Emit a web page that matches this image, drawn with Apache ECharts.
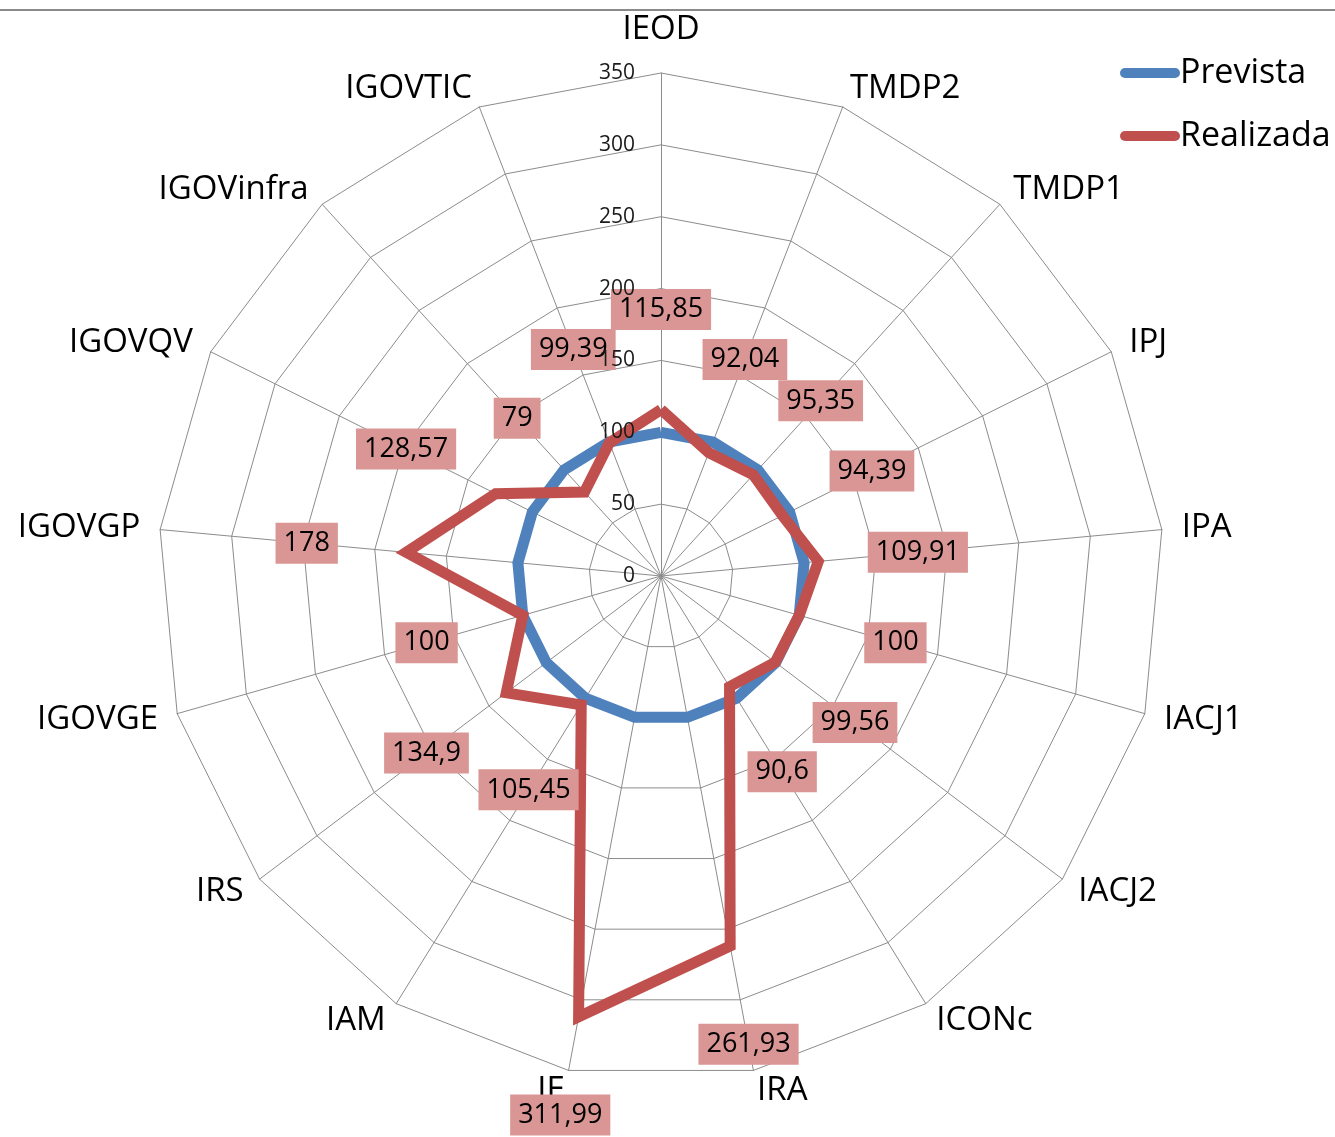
<!DOCTYPE html>
<html>
<head>
<meta charset="utf-8">
<script src="https://cdn.jsdelivr.net/npm/echarts@6/dist/echarts.min.js"></script>
<style>
html,body{margin:0;padding:0;background:#ffffff;}
#chart{width:1335px;height:1137px;}
</style>
</head>
<body>
<div id="chart"></div>
<script>
// ---- data (clockwise from the top) ----
const categories = ['IEOD','TMDP2','TMDP1','IPJ','IPA','IACJ1','IACJ2','ICONc','IRA','IE','IAM','IRS','IGOVGE','IGOVGP','IGOVQV','IGOVinfra','IGOVTIC'];
const prevista  = [100,100,100,100,100,100,100,100,100,100,100,100,100,100,100,100,100];
const realizada = [115.85,92.04,95.35,94.39,109.91,100,99.56,90.6,261.93,311.99,105.45,134.9,100,178,128.57,79,99.39];
const tickLabels = [0,50,100,150,200,250,300,350];
const seriesNames = ['Prevista','Realizada'];

// ---- layout / style ----
const CX = 661, CY = 576, R = 503;
const MIN = tickLabels[0], MAX = tickLabels[tickLabels.length - 1];
const STEP = tickLabels[1] - tickLabels[0];
const FONT = 'Open Sans';
const BLUE = '#4F81BD', RED = '#C0504D', LABEL_BG = '#D99694', GRID = '#8c8c8c';
const n = categories.length;

// ECharts radar places indicators counter-clockwise: reorder so the chart reads clockwise
const order = [0].concat(Array.from({length: n - 1}, (_, k) => n - 1 - k));
const reorder = arr => order.map(i => arr[i]);

const fmt = v => String(v).replace('.', ',');
const LABEL_PUSH = 100; // radial distance of the data labels from their point

const labelData = realizada.map((v, i) => {
  const a = i * 2 * Math.PI / n;
  return {
    value: [v, i],
    label: { offset: [LABEL_PUSH * Math.sin(a), -LABEL_PUSH * Math.cos(a)] }
  };
});

const chart = echarts.init(document.getElementById('chart'), null, {renderer: 'canvas'});

chart.setOption({
  backgroundColor: '#ffffff',
  animation: false,
  graphic: [{
    type: 'line', z: 0, silent: true,
    shape: {x1: 0, y1: 10, x2: 1335, y2: 10},
    style: {stroke: '#8a8a8a', lineWidth: 2}
  }],
  legend: {
    orient: 'vertical',
    left: 1115, top: 51,
    itemWidth: 60, itemHeight: 11, itemGap: 29,
    icon: 'path://M5,0L55,0A5,5,0,0,1,55,10L5,10A5,5,0,0,1,5,0Z',
    textStyle: {fontSize: 34, color: '#000', fontFamily: FONT, padding: [0, 0, 0, -5]},
    data: seriesNames
  },
  radar: {
    center: [CX, CY],
    radius: R,
    startAngle: 90,
    shape: 'polygon',
    splitNumber: (MAX - MIN) / STEP,
    nameGap: 20,
    indicator: reorder(categories).map(name => ({name: name, min: MIN, max: MAX})),
    axisName: {
      color: '#000', fontSize: 33, fontFamily: FONT,
      formatter: name => name === categories[0] ? '{top|' + name + '}' : name,
      rich: {top: {color: '#000', fontSize: 33, fontFamily: FONT, padding: [0, 0, 7, 0]}}
    },
    splitLine: {lineStyle: {color: GRID, width: 1}},
    splitArea: {show: false},
    axisLine: {lineStyle: {color: GRID, width: 1}},
    axisTick: {show: false},
    axisLabel: {show: false}
  },
  polar: {center: [CX, CY], radius: R},
  angleAxis: {
    type: 'category', data: categories, startAngle: 90, clockwise: true,
    boundaryGap: false, show: false
  },
  radiusAxis: {type: 'value', min: MIN, max: MAX, show: false},
  grid: {left: CX, top: CY - R, width: 1, height: R, containLabel: false},
  xAxis: {type: 'value', show: false},
  yAxis: {
    type: 'value', min: MIN, max: MAX, interval: STEP, z: 20,
    axisLine: {show: false}, axisTick: {show: false}, splitLine: {show: false},
    axisLabel: {margin: 26, fontSize: 21, color: '#1a1a1a', fontFamily: FONT}
  },
  series: [
    {
      name: seriesNames[0], type: 'radar', z: 2, symbol: 'none',
      itemStyle: {color: BLUE},
      lineStyle: {color: BLUE, width: 11, join: 'miter'},
      data: [{name: seriesNames[0], value: reorder(prevista)}]
    },
    {
      name: seriesNames[1], type: 'radar', z: 3, symbol: 'none',
      itemStyle: {color: RED},
      lineStyle: {color: RED, width: 11, join: 'miter'},
      data: [{name: seriesNames[1], value: reorder(realizada)}]
    },
    {
      name: 'labels', type: 'scatter', coordinateSystem: 'polar', z: 5,
      symbol: 'circle', symbolSize: 1, silent: true,
      itemStyle: {color: 'rgba(0,0,0,0)', opacity: 1},
      label: {
        show: true, position: 'inside', opacity: 1,
        formatter: p => fmt(p.value[0]),
        backgroundColor: LABEL_BG, color: '#000',
        fontSize: 27, fontFamily: FONT, padding: [8, 8, 6, 8]
      },
      data: labelData
    }
  ]
});
</script>
</body>
</html>
